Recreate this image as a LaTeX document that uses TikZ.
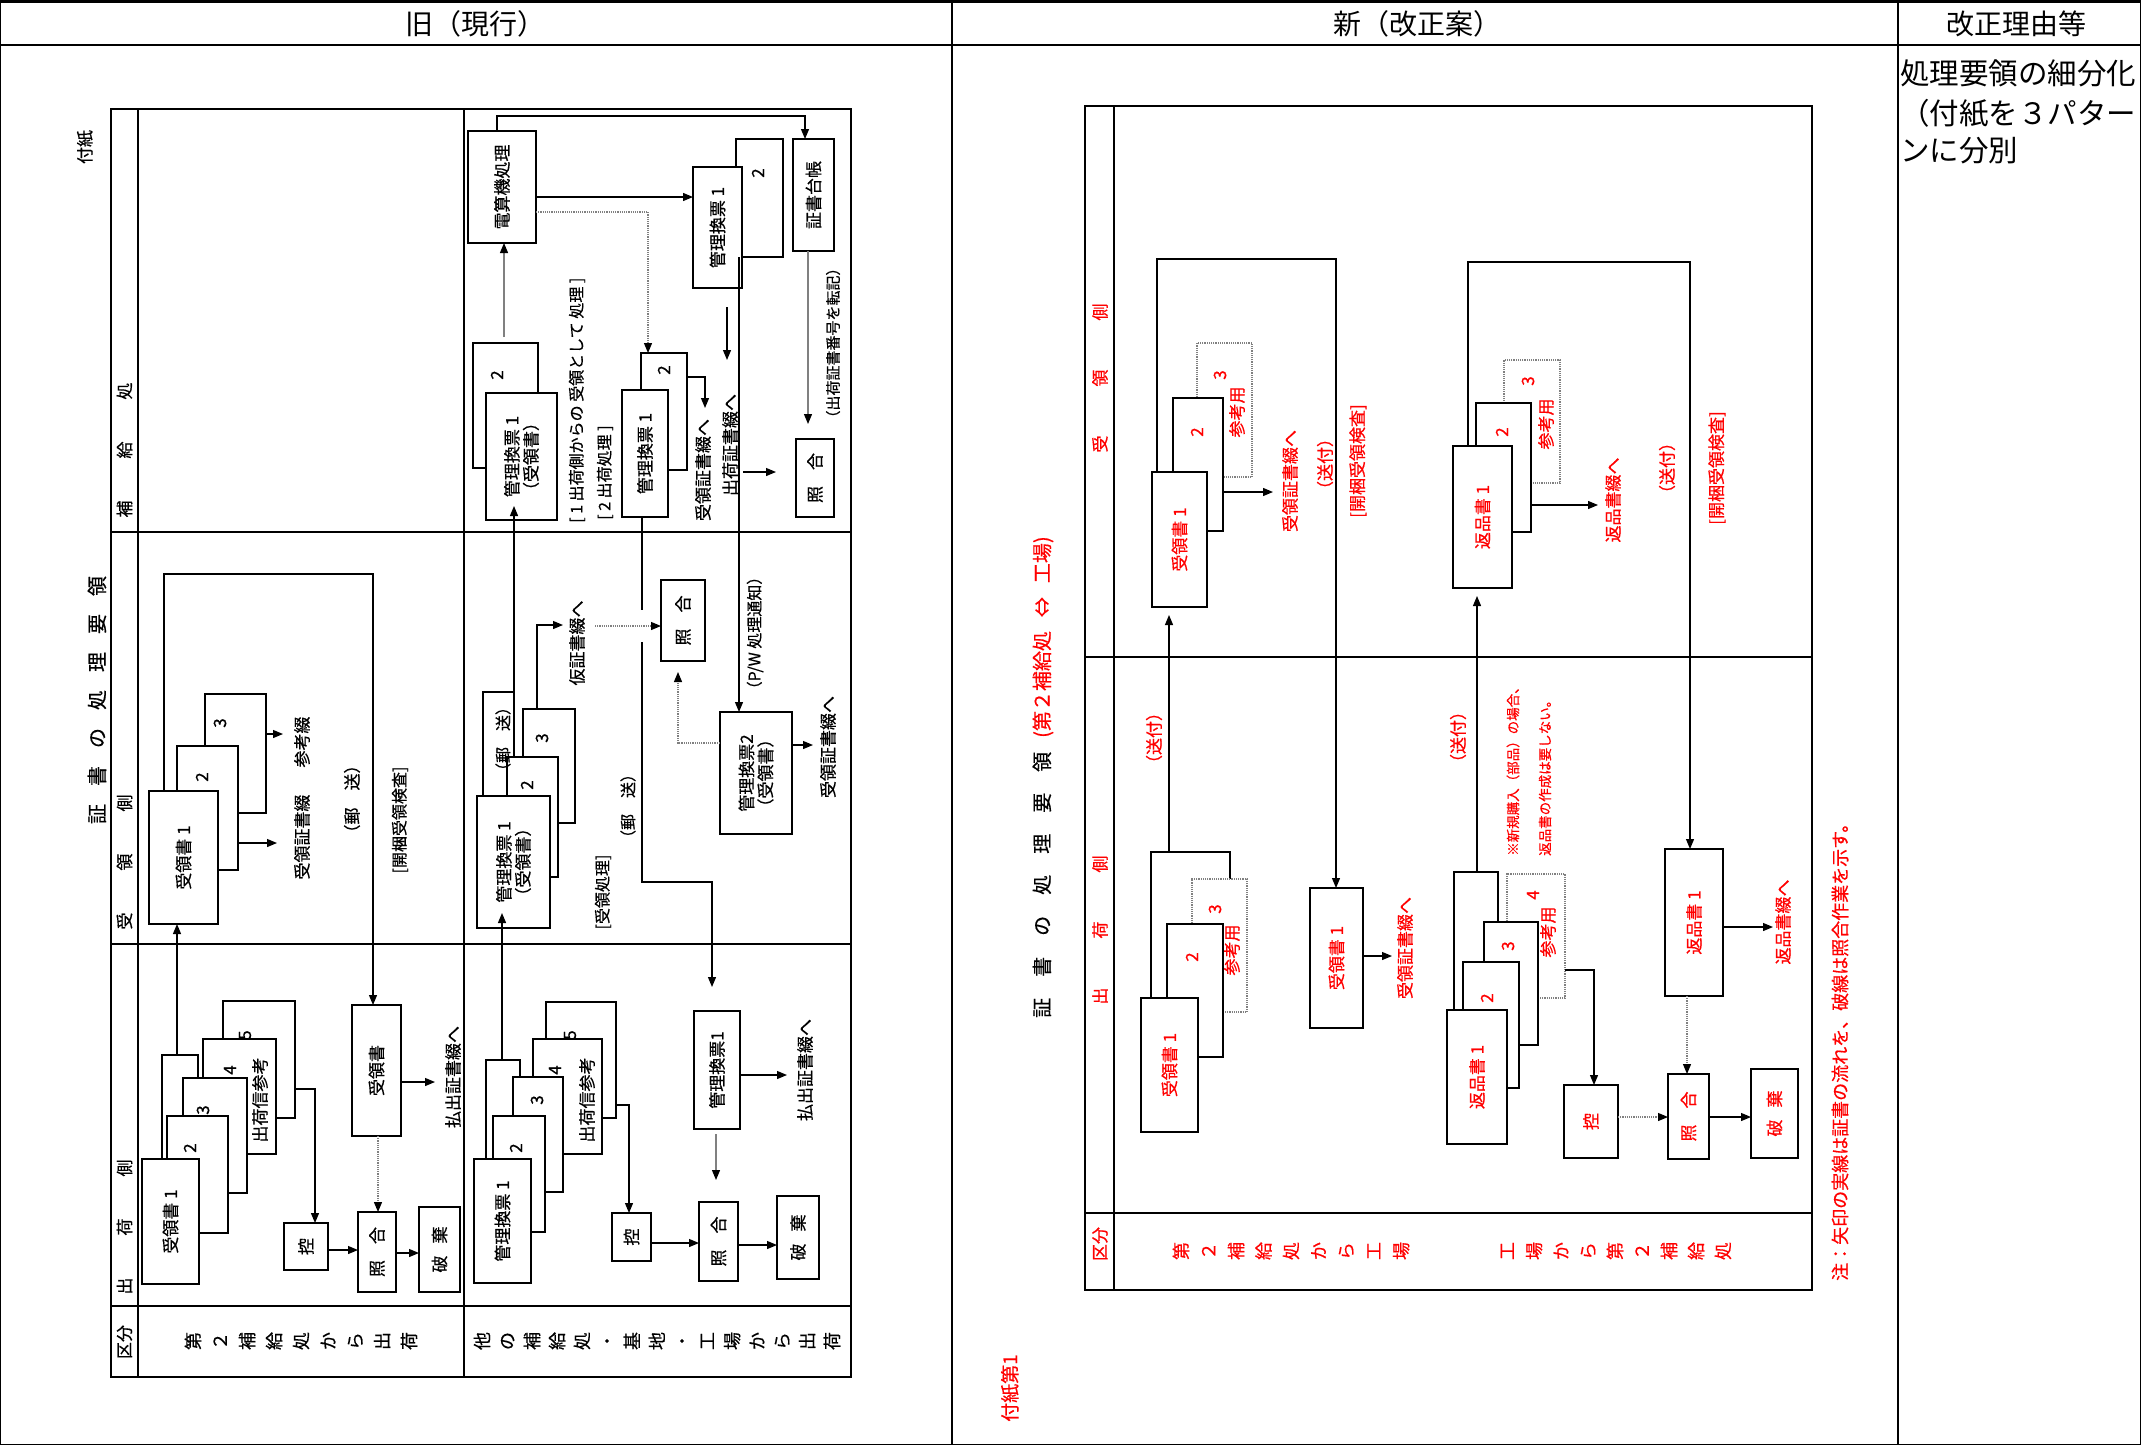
\documentclass[tikz,border=0pt]{standalone}
\usepackage{fontspec}
\setmainfont{Noto Sans CJK JP}
\newfontfamily\dgf[FakeBold=0.5]{Noto Sans CJK JP}
\usetikzlibrary{arrows.meta}
\newcounter{lbc}
\newcommand\lb[4][]{\stepcounter{lbc}\node[t,#1] (L\thelbc) at (#2,#3) {#4};}
\newcommand\bx[6][]{\node[box,#1,minimum width={#4pt-#2pt},minimum height={#5pt-#3pt}] (#6) at ({(#2+#4)/2},{(#3+#5)/2}) {};}
\begin{document}
\begin{tikzpicture}[x=1pt,y=-1pt,
 box/.style={draw,line width=1.2pt,fill=white,inner sep=0pt,outer sep=0pt},
 dbox/.style={box,draw=gray,densely dotted},
 ln/.style={line width=1.2pt},
 tip/.style={-{Triangle[length=10pt,width=8pt,color=black]}},
 arr/.style={ln,tip},
 garr/.style={ln,draw=gray,tip},
 darr/.style={ln,draw=gray,densely dotted,tip},
 t/.style={rotate=90,inner sep=0pt,font=\dgf\fontsize{17}{19}\selectfont,align=center},
 ts/.style={font=\dgf\fontsize{15}{17}\selectfont},
 tm/.style={font=\dgf\fontsize{16}{18}\selectfont},
 tl/.style={font=\dgf\fontsize{17}{19}\selectfont},
 rd/.style={text=red},
]
\useasboundingbox (0,0) rectangle (2141,1445);

% ===== outer table =====
\draw[line width=3pt] (0,1.5) -- (2141,1.5);
\draw[line width=2.5pt] (0,45) -- (2141,45);
\draw[ln] (0.6,0) -- (0.6,1445);
\draw[ln] (2140.4,0) -- (2140.4,1445);
\draw[ln] (0,1444.4) -- (2141,1444.4);
\draw[ln] (952,0) -- (952,1445);
\draw[line width=2.5pt] (1898,0) -- (1898,1445);
\node[font=\fontsize{28}{30}\selectfont] (h1) at (475,24) {旧（現行）};
\node[font=\fontsize{28}{30}\selectfont] (h2) at (1417,24) {新（改正案）};
\node[font=\fontsize{28}{30}\selectfont] (h3) at (2016,24) {改正理由等};
\node[anchor=west,inner sep=0pt,font=\fontsize{29.5}{31}\selectfont] (c1) at (1900,73) {処理要領の細分化};
\node[anchor=west,inner sep=0pt,font=\fontsize{29.5}{31}\selectfont] (c2) at (1900,113) {（付紙を３パター};
\node[anchor=west,inner sep=0pt,font=\fontsize{29.5}{31}\selectfont] (c3) at (1900,151) {ンに分別};

% ===== OLD diagram =====
\lb[font=\dgf\fontsize{17}{19}\selectfont]{85}{147}{付紙}
\lb[font=\dgf\fontsize{20}{22}\selectfont]{97}{700}{証\hspace{18pt}書\hspace{18pt}の\hspace{18pt}処\hspace{18pt}理\hspace{18pt}要\hspace{18pt}領}
\draw[ln] (111,109) rectangle (851,1377);
\draw[ln] (138,109) -- (138,1377);
\draw[ln] (464,109) -- (464,1377);
\draw[ln] (111,532) -- (851,532);
\draw[ln] (111,944) -- (851,944);
\draw[ln] (111,1306) -- (851,1306);
\lb[tl]{124.5}{450}{補\hspace{42pt}給\hspace{42pt}処}
\lb[tl]{124.5}{862}{受\hspace{42pt}領\hspace{42pt}側}
\lb[tl]{124.5}{1227}{出\hspace{42pt}荷\hspace{42pt}側}
\lb[tl]{124.5}{1342}{区分}
\lb[font=\dgf\fontsize{18}{27}\selectfont]{301}{1341}{第\\２\\補\\給\\処\\か\\ら\\出\\荷}
\lb[font=\dgf\fontsize{18}{25}\selectfont]{657}{1341}{他\\の\\補\\給\\処\\・\\基\\地\\・\\工\\場\\か\\ら\\出\\荷}

% --- left, 受領側
\bx{205}{694}{266}{813}{oLu3}
\bx{177}{746}{238}{870}{oLu2}
\bx{149}{791}{218}{924}{oLu1}
\lb{220}{723}{3}
\lb{202}{777}{2}
\node[t] (oLu1t) at (oLu1) {受領書 1};
\draw[arr] (oLu2.east |- 0,843) -- (277,843);
\draw[arr] (oLu3.east |- 0,734) -- (283,734);
\lb{302}{837}{受領証書綴}
\lb{302}{742}{参考綴}
\lb{352}{799}{（郵　送）}
\lb[tm]{400}{820}{[開梱受領検査]}

% --- left, 出荷側
\bx{162}{1055}{198}{1200}{oLb}
\bx{223}{1001}{295}{1118}{oLd5}
\bx{203}{1039}{276}{1154}{oLd4}
\bx{183}{1078}{247}{1193}{oLd3}
\bx{167}{1116}{228}{1233}{oLd2}
\bx{142}{1159}{199}{1284}{oLd1}
\lb{245}{1035}{5}
\lb{230}{1070}{4}
\lb{260}{1100}{出荷信参考}
\lb{203}{1110}{3}
\lb{190}{1148}{2}
\node[t] (oLd1t) at (oLd1) {受領書 1};
\draw[arr] (177,0 |- oLb.north) -- (177,0 |- oLu1.south);
\bx{284}{1223}{328}{1270}{oLk}
\bx{358}{1212}{396}{1292}{oLs}
\bx{419}{1207}{460}{1292}{oLh}
\bx{352}{1005}{401}{1136}{oLr}
\node[t] (oLkt) at (oLk) {控};
\node[t] (oLst) at (oLs) {照\hspace{16pt}合};
\node[t] (oLht) at (oLh) {破\hspace{12pt}棄};
\node[t] (oLrt) at (oLr) {受領書};
\draw[arr] (164,0 |- oLu1.north) -- (164,574) -| (373,0 |- oLr.north);
\draw[arr] (oLd5.east |- 0,1089) -| (315,0 |- oLk.north);
\draw[arr] (oLk.east |- 0,1250) -- (oLs.west |- 0,1250);
\draw[arr] (oLs.east |- 0,1253) -- (oLh.west |- 0,1253);
\draw[darr] (378,0 |- oLr.south) -- (378,0 |- oLs.north);
\draw[arr] (oLr.east |- 0,1082) -- (435,1082);
\lb{453}{1077}{払出証書綴へ}

% --- right, 補給処
\bx{468}{131}{536}{243}{oDen}
\bx{793}{139}{834}{251}{oDai}
\bx{736}{139}{783}{257}{oT2}
\bx{693}{167}{742}{288}{oT1}
\node[t] (oDent) at (oDen) {電算機処理};
\node[t] (oDait) at (oDai) {証書台帳};
\lb{758}{173}{2}
\node[t] (oT1t) at (oT1) {管理換票 1};
\draw[arr] (497,0 |- oDen.north) |- (805,116) -- (805,0 |- oDai.north);
\draw[arr] (oDen.east |- 0,197) -- (oT1.west |- 0,197);
\draw[arr] (727,307) -- (727,360);
\lb{730}{445}{出荷証書綴へ}
\bx{641}{353}{687}{470}{oM2}
\bx{622}{390}{668}{517}{oM1}
\lb{664}{370}{2}
\node[t] (oM1t) at (oM1) {管理換票 1};
\draw[darr] (oDen.east |- 0,212) -| (648,0 |- oM2.north);
\draw[arr] (oM2.east |- 0,377) -| (705,408);
\lb{703}{470}{受領証書綴へ}
\bx{473}{343}{538}{468}{oU2}
\bx{486}{393}{557}{520}{oU1}
\lb{497}{375}{2}
\node[t] (oU1t) at (oU1) {管理換票 1\\（受領書）};
\draw[garr,shorten <=6pt] (504,0 |- oU2.north) -- (504,0 |- oDen.south);
\bx{796}{439}{834}{517}{oSg}
\node[t] (oSgt) at (oSg) {照\hspace{16pt}合};
\draw[arr,shorten >=20pt] (743,472) -- (oSg.west |- 0,472);
\draw[garr,shorten >=15pt] (808,0 |- oDai.south) -- (808,0 |- oSg.north);
\lb[ts]{833}{343}{（出荷証書番号を転記）}
\lb[anchor=west,tm]{577}{523}{[ 1 出荷側からの 受領として 処理 ]}
\lb[anchor=west,tm]{605}{520}{[ 2 出荷処理 ]}

% --- right, 受領側
\bx{483}{692}{514}{800}{oRb}
\draw[arr,shorten >=-14pt] (oRb.north east) -- (514,0 |- oU1.south);
\bx{523}{709}{575}{823}{oR3}
\bx{507}{757}{558}{877}{oR2}
\bx{477}{796}{550}{928}{oR1}
\lb[tm]{503}{739}{（郵　送）}
\lb{542}{738}{3}
\lb{527}{785}{2}
\node[t] (oR1t) at (oR1) {管理換票 1\\（受領書）};
\draw[arr] (537,0 |- oR3.north) |- (563,625);
\lb{577}{643}{仮証書綴へ}
\bx{661}{580}{705}{661}{oRs}
\node[t] (oRst) at (oRs) {照\hspace{16pt}合};
\draw[darr] (595,626) -- (oRs.west |- 0,626);
\bx{720}{712}{792}{834}{oK2}
\node[t] (oK2t) at (oK2) {管理換票2\\（受領書）};
\draw[arr] (739,0 |- oT2.south) -- (739,0 |- oK2.north);
\lb[tm]{755}{633}{（P/W 処理通知）}
\draw[darr,shorten >=11pt] (oK2.west |- 0,743) -| (678,0 |- oRs.south);
\draw[arr] (oK2.east |- 0,745) -- (813,745);
\lb{828}{747}{受領証書綴へ}
\lb[tm]{603}{892}{[受領処理]}
\lb[tm]{628}{806}{（郵　送）}

% --- right, 出荷側
\bx{486}{1060}{520}{1170}{oSb}
\draw[arr,shorten >=-15pt] (502,0 |- oSb.north) -- (502,0 |- oR1.south);
\bx{546}{1002}{616}{1118}{oSd5}
\bx{533}{1039}{602}{1154}{oSd4}
\bx{513}{1077}{563}{1192}{oSd3}
\bx{493}{1116}{545}{1232}{oSd2}
\bx{474}{1159}{531}{1283}{oSd1}
\lb{570}{1035}{5}
\lb{555}{1070}{4}
\lb{587}{1100}{出荷信参考}
\lb{537}{1100}{3}
\lb{516}{1148}{2}
\node[t] (oSd1t) at (oSd1) {管理換票 1};
\bx{612}{1213}{651}{1261}{oSk}
\bx{699}{1202}{738}{1281}{oSs}
\bx{777}{1196}{819}{1279}{oSh}
\bx{694}{1011}{740}{1129}{oK1}
\node[t] (oSkt) at (oSk) {控};
\node[t] (oSst) at (oSs) {照\hspace{16pt}合};
\node[t] (oSht) at (oSh) {破\hspace{12pt}棄};
\node[t] (oK1t) at (oK1) {管理換票1};
\draw[ln] (642,0 |- oM1.south) -- (642,610);
\draw[arr,shorten >=24pt] (642,642) |- (712,882) -- (712,0 |- oK1.north);
\draw[arr] (oSd5.east |- 0,1105) -| (629,0 |- oSk.north);
\draw[arr] (oSk.east |- 0,1243) -- (oSs.west |- 0,1243);
\draw[arr] (oSs.east |- 0,1245) -- (oSh.west |- 0,1245);
\draw[arr] (oK1.east |- 0,1075) -- (787,1075);
\lb{805}{1070}{払出証書綴へ}
\draw[garr,shorten <=5pt,shorten >=22pt] (716,0 |- oK1.south) -- (716,0 |- oSs.north);

% ===== NEW diagram =====
\lb[anchor=west,font=\dgf\fontsize{20}{22}\selectfont]{1043}{1018}{証\hspace{21pt}書\hspace{21pt}の\hspace{21pt}処\hspace{21pt}理\hspace{21pt}要\hspace{21pt}領\hspace{14pt}\textcolor{red}{(第２補給処\hspace{14pt}⇔\hspace{14pt}工場)}}
\lb[anchor=west,rd,font=\dgf\fontsize{19}{21}\selectfont]{1010}{1422}{付紙第1}
\lb[anchor=west,rd,font=\dgf\fontsize{18}{20}\selectfont]{1840}{1281}{注：矢印の実線は証書の流れを、破線は照合作業を示す。}
\draw[ln] (1085,106) rectangle (1812,1290);
\draw[ln] (1114,106) -- (1114,1290);
\draw[ln] (1085,657) -- (1812,657);
\draw[ln] (1085,1213) -- (1812,1213);
\lb[tl,rd]{1100}{378}{受\hspace{49pt}領\hspace{49pt}側}
\lb[tl,rd]{1100}{930}{出\hspace{49pt}荷\hspace{49pt}側}
\lb[tl,rd]{1100}{1244}{区分}
\lb[rd,font=\dgf\fontsize{18}{27.5}\selectfont]{1291}{1251}{第\\２\\補\\給\\処\\か\\ら\\工\\場}
\lb[rd,font=\dgf\fontsize{18}{27}\selectfont]{1616}{1251}{工\\場\\か\\ら\\第\\２\\補\\給\\処}

% --- 受領側 left
\bx[dbox]{1197}{343}{1252}{477}{nA3}
\bx{1173}{398}{1223}{531}{nA2}
\bx{1152}{472}{1207}{607}{nA1}
\lb[rd]{1220}{375}{3}
\lb[rd]{1237}{412}{参考用}
\lb[rd]{1197}{432}{2}
\node[t,rd] (nA1t) at (nA1) {受領書 1};
\draw[arr] (nA2.east |- 0,492) -- (1273,492);
\lb[rd,tl]{1290}{481}{受領証書綴へ}
\lb[rd,tl]{1325}{464}{（送付）}
\lb[rd,tl]{1358}{461}{[開梱受領検査]}

% --- 出荷側 left
\bx{1151}{852}{1230}{1000}{nBb}
\bx[dbox]{1192}{879}{1247}{1012}{nB3}
\bx{1167}{924}{1223}{1057}{nB2}
\bx{1141}{998}{1198}{1132}{nB1}
\lb[rd]{1215}{909}{3}
\lb[rd]{1232}{950}{参考用}
\lb[rd]{1192}{957}{2}
\node[t,rd] (nB1t) at (nB1) {受領書 1};
\draw[arr,shorten >=8pt] (1169,0 |- nBb.north) -- (1169,0 |- nA1.south);
\lb[rd,tl]{1154}{738}{（送付）}
\bx{1310}{888}{1363}{1028}{nBr}
\node[t,rd] (nBrt) at (nBr) {受領書 1};
\draw[arr] (1157,0 |- nA1.north) |- (1336,259) -- (1336,0 |- nBr.north);
\draw[arr] (nBr.east |- 0,956) -- (1392,956);
\lb[rd,tl]{1405}{948}{受領証書綴へ}

% --- 受領側 right
\bx[dbox]{1504}{360}{1560}{483}{nC3}
\bx{1476}{403}{1531}{532}{nC2}
\bx{1453}{446}{1512}{588}{nC1}
\lb[rd]{1528}{381}{3}
\lb[rd]{1546}{424}{参考用}
\lb[rd]{1502}{432}{2}
\node[t,rd] (nC1t) at (nC1) {返品書 1};
\draw[arr] (nC2.east |- 0,505) -- (1598,505);
\lb[rd,tl]{1613}{500}{返品書綴へ}
\lb[rd,tl]{1667}{468}{（送付）}
\lb[rd,tl]{1717}{468}{[開梱受領検査]}

% --- 出荷側 right
\bx{1454}{872}{1498}{1012}{nDb}
\bx[dbox]{1507}{874}{1565}{998}{nD4}
\bx{1484}{922}{1538}{1045}{nD3}
\bx{1463}{962}{1519}{1088}{nD2}
\bx{1447}{1010}{1507}{1144}{nD1}
\lb[rd]{1533}{895}{4}
\lb[rd]{1548}{932}{参考用}
\lb[rd]{1508}{946}{3}
\lb[rd]{1487}{998}{2}
\node[t,rd] (nD1t) at (nD1) {返品書 1};
\draw[arr,shorten >=8pt] (1477,0 |- nDb.north) -- (1477,0 |- nC1.south);
\lb[rd,tl]{1458}{737}{（送付）}
\lb[rd,anchor=west,font=\dgf\fontsize{13.5}{15}\selectfont]{1513}{856}{※新規購入（部品）の場合、}
\lb[rd,anchor=west,font=\dgf\fontsize{13.5}{15}\selectfont]{1545}{856}{返品書の作成は要しない。}
\bx{1564}{1085}{1618}{1158}{nDk}
\bx{1668}{1074}{1709}{1159}{nDs}
\bx{1751}{1069}{1798}{1158}{nDh}
\bx{1665}{849}{1723}{996}{nDr}
\node[t,rd] (nDkt) at (nDk) {控};
\node[t,rd] (nDst) at (nDs) {照\hspace{16pt}合};
\node[t,rd] (nDht) at (nDh) {破\hspace{12pt}棄};
\node[t,rd] (nDrt) at (nDr) {返品書 1};
\draw[arr] (1468,0 |- nC1.north) |- (1690,262) -- (1690,0 |- nDr.north);
\draw[arr] (nD4.east |- 0,970) -| (1594,0 |- nDk.north);
\draw[darr] (nDk.east |- 0,1117) -- (nDs.west |- 0,1117);
\draw[arr] (nDs.east |- 0,1117) -- (nDh.west |- 0,1117);
\draw[darr] (1687,0 |- nDr.south) -- (1687,0 |- nDs.north);
\draw[arr] (nDr.east |- 0,927) -- (1773,927);
\lb[rd,tl]{1783}{922}{返品書綴へ}
\end{tikzpicture}
\end{document}
